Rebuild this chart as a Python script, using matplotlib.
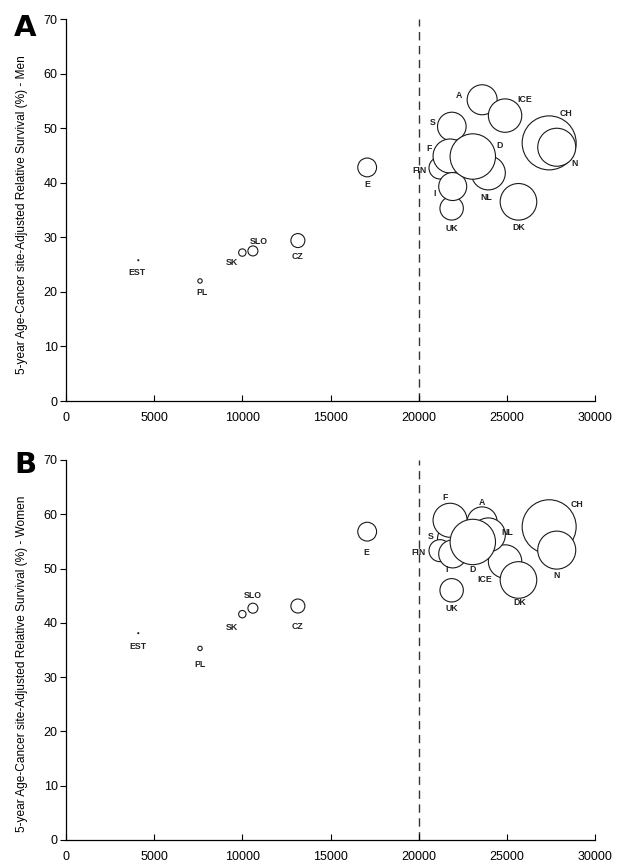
import numpy as np
import matplotlib
matplotlib.use("Agg")
import matplotlib.pyplot as plt
from matplotlib import font_manager

# pick a narrow Arial-like face if present
_names = {f.name for f in font_manager.fontManager.ttflist}
NARROW = "Liberation Sans Narrow" if "Liberation Sans Narrow" in _names else "Liberation Sans"
plt.rcParams["font.family"] = [NARROW, "DejaVu Sans"]

# countries in drawing order (later ones sit on top)
countries = ["EST", "PL", "SK", "SLO", "CZ", "E", "CH", "N", "A", "ICE", "DK",
             "S", "FIN", "F", "UK", "I", "NL", "D"]
gdp = [4100, 7600, 10000, 10600, 13150, 17080, 27400, 27830, 23600, 24900, 25660,
       21880, 21210, 21780, 21870, 21930, 23950, 23070]
surv_men = [25.8, 22.0, 27.2, 27.5, 29.4, 42.8, 47.3, 46.5, 55.2, 52.3, 36.5,
            50.3, 42.7, 44.9, 35.3, 39.3, 41.8, 44.8]
surv_women = [38.1, 35.3, 41.6, 42.7, 43.1, 56.8, 57.7, 53.4, 58.6, 51.3, 47.9,
              55.5, 53.3, 58.9, 46.0, 52.7, 56.2, 54.9]
# bubble size variable (relative)
bubble = [0.5, 2.2, 3.7, 5.0, 7.0, 9.4, 27.0, 19.0, 15.0, 16.7, 18.3,
          14.3, 11.0, 17.0, 11.7, 14.0, 17.0, 22.7]

x_ticks = [0, 5000, 10000, 15000, 20000, 25000, 30000]
y_ticks = [0, 10, 20, 30, 40, 50, 60, 70]

# label offsets in pixels (dx, dy; dy upward)
lab_men = {"A": (-23, 4), "ICE": (20, 16), "S": (-19, 4), "F": (-21, 7),
           "D": (27, 11), "FIN": (-21, -3), "NL": (-2, -25), "I": (-18, -7),
           "UK": (0, -20), "DK": (0, -26), "CH": (17, 29), "N": (18, -16),
           "E": (0, -17), "CZ": (0, -16), "SLO": (6, 9), "SK": (-10, -10),
           "PL": (2, -12), "EST": (-1, -12)}
lab_women = {"F": (-5, 23), "A": (0, 19), "NL": (19, 2), "CH": (28, 22),
             "S": (-21, 2), "FIN": (-22, -2), "I": (-6, -16), "D": (0, -28),
             "ICE": (-20, -18), "N": (0, -25), "DK": (1, -23), "UK": (0, -18),
             "E": (-1, -21), "CZ": (0, -20), "SLO": (0, 13), "SK": (-10, -13),
             "PL": (0, -16), "EST": (0, -13)}

DPI = 100
W, H = 619, 865
fig = plt.figure(figsize=(W / DPI, H / DPI), dpi=DPI)


def panel(rect, y, labels, ylab, ylab_y):
    ax = fig.add_axes(rect)
    r_px = np.array(bubble)
    s = (2 * r_px * 72 / DPI) ** 2
    ax.scatter(gdp, y, s=s, facecolor="white", edgecolor="#1a1a1a",
               linewidth=0.8, zorder=3)
    for c, xv, yv in zip(countries, gdp, y):
        dx, dy = labels[c]
        ax.annotate(c, (xv, yv), xytext=(dx, dy), textcoords="offset pixels",
                    ha="center", va="center", fontsize=6.3, fontweight="bold",
                    color="#222222", zorder=4)
    ax.axvline(20000, color="#333333", lw=1.0, ls=(0, (6, 4)), zorder=1)
    ax.set_xlim(0, 30000)
    ax.set_ylim(0, 70)
    ax.set_xticks(x_ticks)
    ax.set_yticks(y_ticks)
    for sp in ("top", "right"):
        ax.spines[sp].set_visible(False)
    ax.spines["left"].set_linewidth(0.9)
    ax.spines["bottom"].set_linewidth(0.9)
    ax.tick_params(axis="x", direction="in", length=4, width=0.8,
                   labelsize=9, pad=8)
    ax.tick_params(axis="y", direction="out", length=4, width=0.8,
                   labelsize=9, pad=2)
    ax.set_ylabel(ylab, fontsize=8.6)
    ax.yaxis.set_label_coords(-0.072, ylab_y)
    return ax


axA = panel([66 / W, 1 - 401 / H, 529 / W, 382 / H], surv_men, lab_men,
            "5-year Age-Cancer site-Adjusted Relative Survival (%) - Men", 0.487)
axB = panel([66 / W, 1 - 840 / H, 529 / W, 380 / H], surv_women, lab_women,
            "5-year Age-Cancer site-Adjusted Relative Survival (%) - Women", 0.463)

fig.text(14 / W, 1 - 14 / H, "A", fontsize=21, fontweight="bold",
         family="DejaVu Sans", va="top", ha="left")
fig.text(14 / W, 1 - 451 / H, "B", fontsize=21, fontweight="bold",
         family="DejaVu Sans", va="top", ha="left")

fig.savefig("out.png", dpi=DPI)
